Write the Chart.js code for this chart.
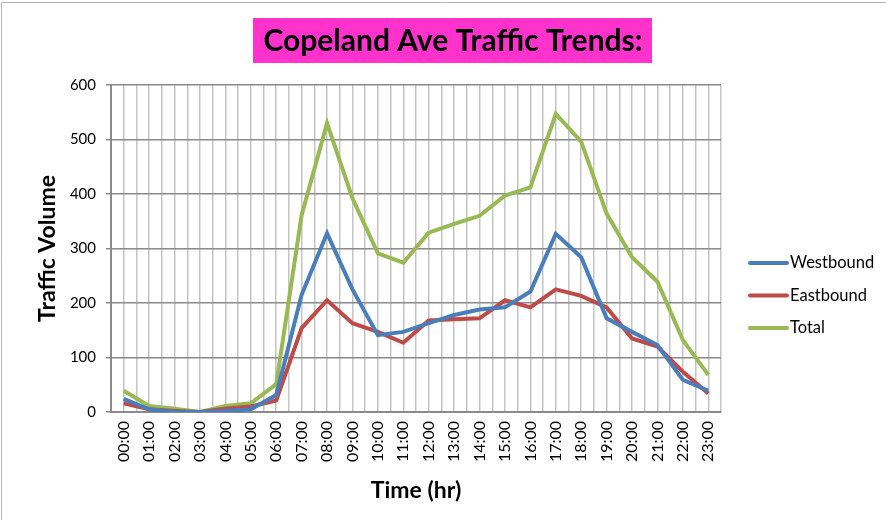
<!DOCTYPE html>
<html>
<head>
<meta charset="utf-8">
<script src="https://cdn.jsdelivr.net/npm/chart.js"></script>
<style>
  body { margin: 0; background: #fff; }
  #box { width: 886px; height: 520px; }
</style>
</head>
<body>
<div id="box"><canvas id="trafficChart" width="886" height="520"></canvas></div>
<script>
// chart values
const chartTitle = 'Copeland Ave Traffic Trends:';
const hours = ['00:00', '01:00', '02:00', '03:00', '04:00', '05:00', '06:00', '07:00',
  '08:00', '09:00', '10:00', '11:00', '12:00', '13:00', '14:00', '15:00',
  '16:00', '17:00', '18:00', '19:00', '20:00', '21:00', '22:00', '23:00'];
const westbound = [24, 5, 0, 0, 2, 5, 31, 215, 328, 225, 141, 147, 163, 178, 188, 192, 221, 327, 284, 172, 147, 123, 59, 39];
const eastbound = [16, 5, 2, 0, 6, 10, 21, 154, 205, 163, 147, 127, 168, 170, 172, 205, 192, 225, 213, 192, 135, 120, 74, 34];
const total = [39, 11, 6, 0, 11, 16, 51, 361, 530, 392, 291, 274, 329, 345, 360, 397, 412, 547, 496, 364, 284, 239, 132, 68];
const yTicks = [0, 100, 200, 300, 400, 500, 600];

const FONT = 'Lato, "Open Sans", sans-serif';

// frame, magenta title box and the legend on the right
const decorations = {
  id: 'decorations',
  beforeDraw(chart) {
    const c = chart.ctx;
    c.save();
    c.fillStyle = '#fff';
    c.fillRect(0, 0, chart.width, chart.height);
    c.strokeStyle = '#b4b4b4';
    c.lineWidth = 1;
    c.beginPath();
    c.moveTo(1.5, chart.height);
    c.lineTo(1.5, 2.5);
    c.lineTo(chart.width, 2.5);
    c.stroke();
    c.restore();
  },
  afterDraw(chart) {
    const c = chart.ctx;
    c.save();
    // title
    c.fillStyle = '#ff33cc';
    c.fillRect(253, 18, 399, 45);
    c.fillStyle = '#000';
    c.font = 'bold 30px ' + FONT;
    c.textAlign = 'center';
    c.textBaseline = 'middle';
    c.fillText(chartTitle, 453, 41);
    // legend
    c.font = '16.5px ' + FONT;
    c.textAlign = 'left';
    chart.data.datasets.forEach((ds, i) => {
      const y = 263 + i * 32.5;
      c.strokeStyle = ds.borderColor;
      c.lineWidth = 4;
      c.lineCap = 'round';
      c.beginPath();
      c.moveTo(750, y);
      c.lineTo(787, y);
      c.stroke();
      c.fillStyle = '#000';
      c.fillText(ds.label, 790, y);
    });
    c.restore();
  }
};

new Chart(document.getElementById('trafficChart'), {
  type: 'line',
  data: {
    labels: hours,
    datasets: [
      { label: 'Westbound', data: westbound, borderColor: '#4a7ebb' },
      { label: 'Eastbound', data: eastbound, borderColor: '#be4b48' },
      { label: 'Total', data: total, borderColor: '#98b954' }
    ]
  },
  options: {
    responsive: false,
    animation: false,
    layout: { padding: { top: 85, right: 165, left: 0, bottom: 0 } },
    elements: {
      line: { borderWidth: 4, tension: 0, borderJoinStyle: 'miter', fill: false },
      point: { radius: 0 }
    },
    plugins: {
      legend: { display: false },
      title: { display: false },
      tooltip: { enabled: false }
    },
    scales: {
      x: {
        type: 'category',
        offset: true,
        grid: { offset: true, color: '#c4c4c4', lineWidth: 1.5, drawTicks: false },
        border: { color: '#8a8a8a', width: 2 },
        ticks: {
          color: '#000', font: { family: FONT, size: 16 },
          minRotation: 90, maxRotation: 90, padding: 9, autoSkip: false
        },
        title: {
          display: true, text: 'Time (hr)', color: '#000',
          font: { family: FONT, size: 23, weight: 'bold' },
          padding: { top: 16, bottom: 16 }
        },
        afterFit(scale) { scale.height = 108; }
      },
      x2: {
        type: 'category',
        labels: hours,
        position: 'bottom',
        offset: true,
        grid: { offset: false, color: '#c4c4c4', lineWidth: 1.5, drawTicks: false },
        border: { display: false },
        ticks: { display: false },
        afterFit(scale) { scale.height = 0; }
      },
      y: {
        min: 0,
        max: 600,
        afterBuildTicks(scale) { scale.ticks = yTicks.map(v => ({ value: v })); },
        grid: { color: '#8a8a8a', lineWidth: 1.5, tickLength: 5 },
        border: { color: '#8a8a8a', width: 2 },
        ticks: { color: '#000', font: { family: FONT, size: 15 }, padding: 10 },
        title: {
          display: true, text: 'Traffic Volume', color: '#000',
          font: { family: FONT, size: 23, weight: 'bold' },
          padding: { top: 34, bottom: 34 }
        },
        afterFit(scale) { scale.width = 111; }
      }
    }
  },
  plugins: [decorations]
});
</script>
</body>
</html>
